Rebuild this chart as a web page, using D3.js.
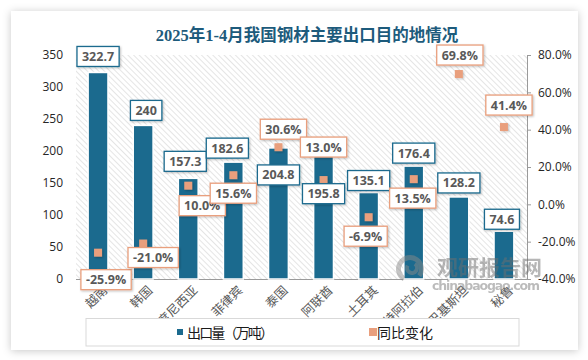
<!DOCTYPE html>
<html>
<head>
<meta charset="utf-8">
<script src="https://cdn.jsdelivr.net/npm/d3@7"></script>
<style>
  html, body { margin: 0; padding: 0; background: #ffffff; }
  svg { display: block; }
</style>
</head>
<body>
<svg id="chart" width="588" height="360"></svg>
<script>
// ---------- data ----------
const categories = ["越南", "韩国", "印度尼西亚", "菲律宾", "泰国", "阿联酋", "土耳其", "沙特阿拉伯", "巴基斯坦", "秘鲁"];
const exportVolume = [322.7, 240, 157.3, 182.6, 204.8, 195.8, 135.1, 176.4, 128.2, 74.6];
const yoyChange = [-25.9, -21.0, 10.0, 15.6, 30.6, 13.0, -6.9, 13.5, 69.8, 41.4];
const leftTicks = [0, 50, 100, 150, 200, 250, 300, 350];
const rightTicks = [-40, -20, 0, 20, 40, 60, 80];
const title = "2025年1-4月我国钢材主要出口目的地情况";
const seriesNames = ["出口量（万吨）", "同比变化"];

// ---------- layout (label offsets relative to marks) ----------
const barLabelOffset = [[0,-16],[3,-15],[-3,-17],[-6,-14],[0,27],[0,40],[0,-12],[0,-13],[0,-14],[-2,-12]];
const yoyLabelOffset = [[8,27],[10,14],[14,20],[0,18],[5,-18],[0,-33],[-3,19],[-1,19],[1,-19],[5,-22]];

const BAR = "#1b6a8e", ORANGE = "#e99f7d";
const svg = d3.select("#chart");
const defs = svg.append("defs");

const sh = defs.append("filter").attr("id","cardShadow").attr("x","-10%").attr("y","-10%").attr("width","120%").attr("height","120%");
sh.append("feDropShadow").attr("dx",0).attr("dy",1).attr("stdDeviation",4).attr("flood-color","#000").attr("flood-opacity",0.22);

const sm = defs.append("filter").attr("id","smallShadow").attr("x","-30%").attr("y","-30%").attr("width","160%").attr("height","160%");
sm.append("feDropShadow").attr("dx",1).attr("dy",1).attr("stdDeviation",1.2).attr("flood-color","#000").attr("flood-opacity",0.25);

const pat = defs.append("pattern").attr("id","hatch").attr("patternUnits","userSpaceOnUse")
  .attr("width",4).attr("height",4).attr("patternTransform","rotate(45)");
pat.append("rect").attr("width",4).attr("height",4).attr("fill","#ffffff");
pat.append("line").attr("x1",0).attr("y1",0).attr("x2",4).attr("y2",0)
  .attr("stroke","#d4d4d4").attr("stroke-width",1.2);

// card
svg.append("rect").attr("x",11).attr("y",11).attr("width",567).attr("height",339)
  .attr("fill","#ffffff").attr("filter","url(#cardShadow)");

// title
svg.append("text").attr("x",307).attr("y",41).attr("text-anchor","middle")
  .attr("font-family","'Liberation Serif','Noto Sans CJK SC',serif").attr("font-weight","bold")
  .attr("font-size",16.5).attr("fill","#1d5b7c").text(title);

// scales
const x = d3.scaleBand().domain(categories).range([75.5, 526.5]).paddingInner(0.56).paddingOuter(0.28);
const yL = d3.scaleLinear().domain([0, 350]).range([279, 55]);
const yR = d3.scaleLinear().domain([-40, 80]).range([279, 55]);
const cx = c => x(c) + x.bandwidth() / 2;

// plot background hatch
svg.append("rect").attr("x",76).attr("y",55).attr("width",451).attr("height",224).attr("fill","url(#hatch)");

// left axis
const gL = svg.append("g").attr("transform","translate(76,0)")
  .call(d3.axisLeft(yL).tickValues(leftTicks).tickSize(0).tickPadding(13));
gL.select(".domain").remove();
gL.selectAll("text").attr("font-family","'Open Sans',sans-serif").attr("font-size",12).attr("fill","#262626");

// right axis
const gR = svg.append("g").attr("transform","translate(527,0)")
  .call(d3.axisRight(yR).tickValues(rightTicks).tickSize(4).tickPadding(7).tickFormat(d => d.toFixed(1) + "%"));
gR.select(".domain").attr("stroke","#9a9a9a");
gR.selectAll(".tick line").attr("stroke","#9a9a9a");
gR.selectAll("text").attr("font-family","'Open Sans',sans-serif").attr("font-size",12).attr("fill","#262626");

// bottom axis
const gB = svg.append("g").attr("transform","translate(0,279)")
  .call(d3.axisBottom(x).tickSize(0).tickPadding(0));
gB.select(".domain").attr("stroke","#9a9a9a").attr("d","M76,0.5H527");
gB.selectAll(".tick text")
  .attr("font-family","'Noto Sans CJK SC',serif").attr("font-size",12.5).attr("fill","#595959")
  .attr("text-anchor","end")
  .attr("transform","translate(7,9) rotate(-45)")
  .attr("dy","0.35em");

// bars
svg.append("g").selectAll("rect").data(categories).join("rect")
  .attr("x", d => x(d)).attr("width", x.bandwidth())
  .attr("y", (d,i) => yL(exportVolume[i])).attr("height", (d,i) => yL(0) - yL(exportVolume[i]))
  .attr("fill", BAR).attr("stroke","#ffffff").attr("stroke-width",1.5);

// markers
svg.append("g").selectAll("rect").data(categories).join("rect")
  .attr("x", d => cx(d) - 4).attr("y", (d,i) => yR(yoyChange[i]) - 4)
  .attr("width", 8).attr("height", 8).attr("fill", ORANGE).attr("filter","url(#smallShadow)");

// labels
function boxLabel(g, px, py, txt, stroke) {
  const grp = g.append("g");
  const rect = grp.append("rect").attr("fill","#fff").attr("stroke",stroke).attr("stroke-width",1.3)
    .attr("filter","url(#smallShadow)");
  const t = grp.append("text").attr("x",px).attr("y",py).attr("dy","0.36em").attr("text-anchor","middle")
    .attr("font-family","'Open Sans',sans-serif").attr("font-weight","bold").attr("font-size",12.5)
    .attr("fill","#595959").text(txt);
  const w = t.node().getComputedTextLength() + 10;
  rect.attr("x", px - w/2).attr("y", py - 10).attr("width", w).attr("height", 20);
}
const lg = svg.append("g");
categories.forEach((c, i) => {
  boxLabel(lg, cx(c) + barLabelOffset[i][0], yL(exportVolume[i]) + barLabelOffset[i][1],
    String(exportVolume[i]), BAR);
});
categories.forEach((c, i) => {
  boxLabel(lg, cx(c) + yoyLabelOffset[i][0], yR(yoyChange[i]) + yoyLabelOffset[i][1],
    yoyChange[i].toFixed(1) + "%", ORANGE);
});

// watermark
const wm = svg.append("g").attr("opacity",0.5);
wm.append("path").attr("d", d3.arc()({innerRadius:9, outerRadius:14, startAngle:-2.6, endAngle:2.2}))
  .attr("transform","translate(410,269)").attr("fill","#8a8a8a");
wm.append("path").attr("d", d3.arc()({innerRadius:3, outerRadius:7, startAngle:0.6, endAngle:5.2}))
  .attr("transform","translate(412,268)").attr("fill","#8a8a8a");
wm.append("text").attr("x",437).attr("y",275).attr("font-family","'Noto Sans CJK SC',sans-serif")
  .attr("font-weight","bold").attr("font-size",21).attr("fill","#6f6f6f").text("观研报告网");
wm.append("text").attr("x",432).attr("y",290).attr("font-family","'DejaVu Sans',sans-serif")
  .attr("font-weight","bold").attr("font-size",12.5).attr("fill","#7a7a7a")
  .attr("textLength",108).text("chinabaogao.com");

// legend
svg.append("rect").attr("x",86).attr("y",318.5).attr("width",433).attr("height",27.5)
  .attr("fill","#ffffff").attr("stroke","#d9d9d9").attr("stroke-width",1);
svg.append("rect").attr("x",177).attr("y",329).attr("width",6).attr("height",6).attr("fill",BAR);
svg.append("text").attr("x",187).attr("y",332.5).attr("dy","0.36em")
  .attr("font-family","'Noto Sans CJK SC',sans-serif").attr("font-size",14).attr("fill","#1a1a1a")
  .attr("textLength",87).text(seriesNames[0]);
svg.append("rect").attr("x",369).attr("y",328).attr("width",8).attr("height",8).attr("fill",ORANGE);
svg.append("text").attr("x",377).attr("y",332.5).attr("dy","0.36em")
  .attr("font-family","'Noto Sans CJK SC',sans-serif").attr("font-size",14).attr("fill","#1a1a1a")
  .text(seriesNames[1]);
</script>
</body>
</html>
